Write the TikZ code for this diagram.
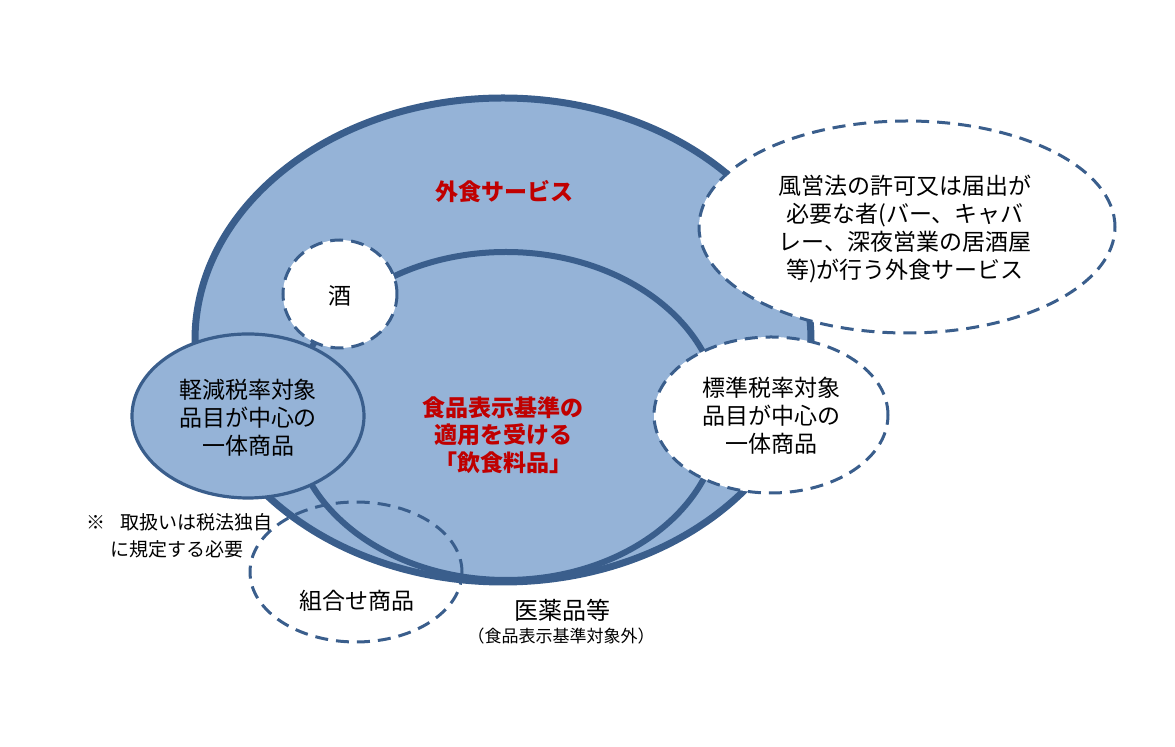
\documentclass[tikz,border=0pt]{standalone}
\usepackage{fontspec}
\newfontfamily\jp{Noto Sans CJK JP}
\usetikzlibrary{shapes.geometric}
\definecolor{fillblue}{HTML}{95B3D7}
\definecolor{edgeblue}{HTML}{3A5E8C}
\definecolor{lblred}{HTML}{C00000}
\tikzset{
  setbox/.style={fill=fillblue, draw=edgeblue, line width=3.5pt},
  dashset/.style={draw=edgeblue, line width=1.5pt, dash pattern=on 6.5pt off 4pt},
  whitedash/.style={dashset, fill=white},
  redlbl/.style={text=lblred, font=\jp\bfseries\fontsize{11.5}{13.8}\selectfont, align=center},
  blklbl/.style={text=black, font=\jp\fontsize{11.5}{14}\selectfont, align=center},
  notelbl/.style={text=black, font=\jp\fontsize{9.5}{12}\selectfont, anchor=west},
}
\begin{document}
\begin{tikzpicture}[x=0.5pt,y=-0.5pt]
\useasboundingbox (0,0) rectangle (1175,747);
% main set: 外食サービス
\path[setbox] (503,340) ellipse [x radius=154pt, y radius=121pt];
% inner set: 食品表示基準
\path[setbox, line width=3pt] (506,416) ellipse [x radius=107pt, y radius=82pt];
% 酒
\path[whitedash] (340,294) ellipse [x radius=28.5pt, y radius=27pt];
\node[blklbl] (sake) at (340,296) {酒};
% 軽減税率
\path[fill=fillblue, draw=edgeblue, line width=1.6pt] (248,416) ellipse [x radius=58pt, y radius=41pt];
% 風営法
\path[whitedash] (907,227) ellipse [x radius=104pt, y radius=53pt];
% 標準税率
\path[whitedash] (771,415) ellipse [x radius=58.5pt, y radius=39pt];
% 組合せ商品
\path[dashset] (356,572) ellipse [x radius=53pt, y radius=35pt];

\node[redlbl] (gaishoku) at (504,192) {外食サービス};
\node[redlbl] (inshoku) at (503,435) {食品表示基準の\\適用を受ける\\「飲食料品」};
\node[blklbl] (keigen) at (248,418) {軽減税率対象\\品目が中心の\\一体商品};
\node[blklbl] (hyojun) at (771,416) {標準税率対象\\品目が中心の\\一体商品};
\node[blklbl] (fuei) at (905,229) {風営法の許可又は届出が\\必要な者(バー、キャバ\\レー、深夜営業の居酒屋\\等)が行う外食サービス};
\node[notelbl] (note1) at (79,522) {※\hspace{0.8em}取扱いは税法独自};
\node[notelbl] (note2) at (103,549) {に規定する必要};
\node[blklbl] (kumiawase) at (357,601) {組合せ商品};
\node[blklbl, font=\jp\fontsize{12}{14}\selectfont] (iyaku) at (562,610) {医薬品等};
\node[blklbl, font=\jp\fontsize{8.5}{10}\selectfont] (iyakunote) at (561,636) {（食品表示基準対象外）};
\end{tikzpicture}
\end{document}
